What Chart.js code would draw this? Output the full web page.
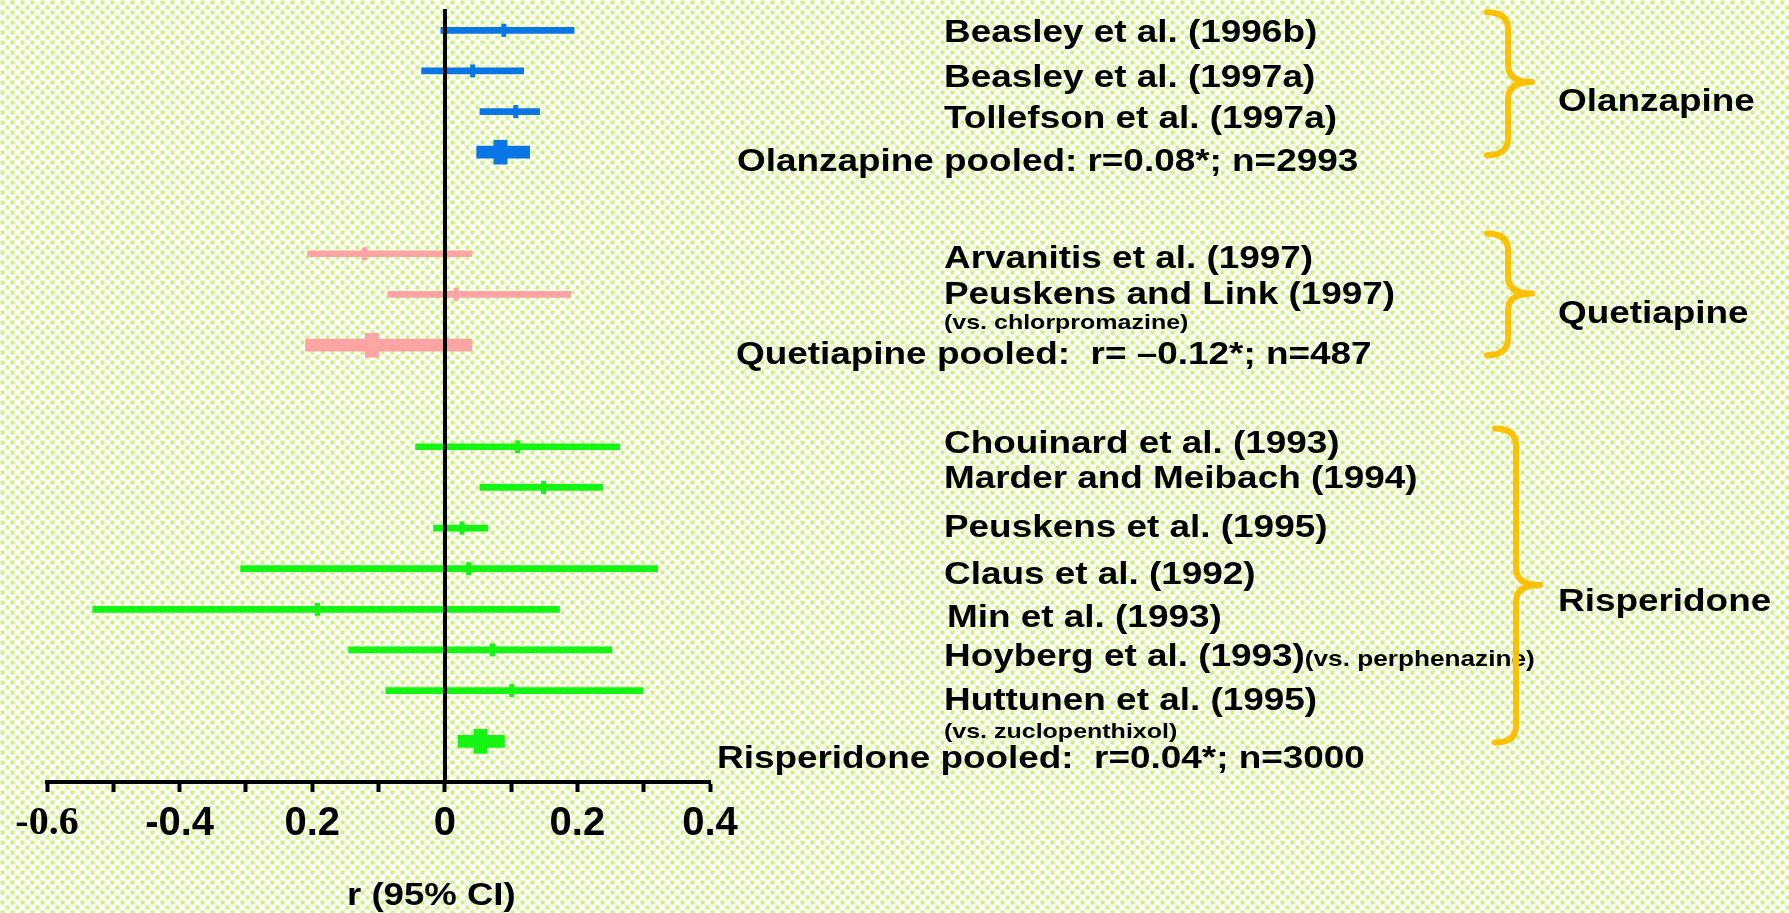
<!DOCTYPE html>
<html>
<head>
<meta charset="utf-8">
<title>r (95% CI)</title>
<script src="https://cdn.jsdelivr.net/npm/chart.js@4.4.0/dist/chart.umd.min.js"></script>
<style>
  html, body { margin: 0; padding: 0; background: #fff; }
  #wrap { width: 1789px; height: 913px; position: relative; }
</style>
</head>
<body>
<div id="wrap"><canvas id="chart"></canvas></div>
<script>
// ---- data ----
const studyNames = [
  "Beasley et al. (1996b)",
  "Beasley et al. (1997a)",
  "Tollefson et al. (1997a)",
  "Arvanitis et al. (1997)",
  "Peuskens and Link (1997)",
  "Chouinard et al. (1993)",
  "Marder and Meibach (1994)",
  "Peuskens et al. (1995)",
  "Claus et al. (1992)",
  "Min et al. (1993)",
  "Hoyberg et al. (1993)",
  "Huttunen et al. (1995)"
];
const studyNotes = ["", "", "", "", "(vs. chlorpromazine)", "", "", "", "", "", "(vs. perphenazine)", "(vs. zuclopenthixol)"];
const studyDrug = [
  "Olanzapine", "Olanzapine", "Olanzapine",
  "Quetiapine", "Quetiapine",
  "Risperidone", "Risperidone", "Risperidone", "Risperidone", "Risperidone", "Risperidone", "Risperidone"
];
// row order on the plot (top = 0), blank rows between the drug groups
const studyRow = [0, 4, 8, 22, 26, 41, 45, 49, 53, 57, 61, 65];
const studyR = [0.089, 0.042, 0.107, -0.121, 0.017, 0.110, 0.149, 0.026, 0.036, -0.192, 0.072, 0.101];
const studyLow = [-0.006, -0.035, 0.053, -0.207, -0.086, -0.044, 0.053, -0.017, -0.308, -0.531, -0.145, -0.089];
const studyHigh = [0.195, 0.119, 0.143, 0.041, 0.190, 0.264, 0.238, 0.065, 0.321, 0.173, 0.252, 0.299];

const drugs = ["Olanzapine", "Quetiapine", "Risperidone"];
const pooledRow = [12, 31, 70];
const pooledR = [0.084, -0.110, 0.054];
const pooledLow = [0.048, -0.210, 0.020];
const pooledHigh = [0.128, 0.041, 0.090];
const pooledText = [
  "Olanzapine pooled: r=0.08*; n=2993",
  "Quetiapine pooled:  r= \u20130.12*; n=487",
  "Risperidone pooled:  r=0.04*; n=3000"
];

const tickLabels = ["-0.6", "", "-0.4", "", "0.2", "", "0", "", "0.2", "", "0.4"];
const axisTitle = "r (95% CI)";

// ---- layout of the text column (in row units of the y scale) ----
const studyLabelRow = [0.1, 4.5, 8.5, 22.35, 25.9, 40.5, 44.0, 48.8, 53.4, 57.6, 61.5, 65.8];
const noteRow = [null, null, null, null, 28.7, null, null, null, null, null, "inline", 68.9];
const pooledLabelRow = [12.75, 31.8, 71.5];
const pooledLabelX = [737, 736, 717];
const groupLabelRow = [6.9, 27.7, 56.1];
const braceRows = [[-1.77, 5.1, 12.3], [20, 25.9, 32], [39.2, 54.6, 70.1]];
const braceX = [1487, 1487, 1495];

const drugColor = { Olanzapine: "#0a76e6", Quetiapine: "#ffa3a3", Risperidone: "#14f514" };
const studyColors = studyDrug.map((d) => drugColor[d]);
const pooledColors = drugs.map((d) => drugColor[d]);

const SANS = '"Liberation Sans", Arial, Helvetica, sans-serif';
const SERIF = '"Liberation Serif", "Times New Roman", serif';
Chart.defaults.font.family = SANS;

// text is drawn a bit wide, like the original slide
const STRETCH = 1.19;

function capText(ctx, str, x, yMid, size, stretch) {
  ctx.save();
  ctx.font = "bold " + size + "px " + SANS;
  ctx.fillStyle = "#000";
  ctx.textAlign = "left";
  ctx.textBaseline = "alphabetic";
  ctx.translate(x, yMid + size * 0.358);
  ctx.scale(stretch, 1);
  ctx.fillText(str, 0, 0);
  const w = ctx.measureText(str).width * stretch;
  ctx.restore();
  return w;
}

function drawBrace(ctx, x0, yTop, yTip, yBot) {
  const xs = x0 + 21, xt = x0 + 45, r = 17;
  ctx.beginPath();
  ctx.moveTo(x0, yTop);
  ctx.quadraticCurveTo(xs, yTop, xs, yTop + r);
  ctx.lineTo(xs, yTip - r);
  ctx.quadraticCurveTo(xs, yTip, xt, yTip);
  ctx.quadraticCurveTo(xs, yTip, xs, yTip + r);
  ctx.lineTo(xs, yBot - r);
  ctx.quadraticCurveTo(xs, yBot, x0, yBot);
  ctx.stroke();
}

// dotted light green slide background
const patternBg = {
  id: "patternBg",
  beforeDraw(chart) {
    const c = chart.ctx;
    const tile = document.createElement("canvas");
    tile.width = 10;
    tile.height = 10;
    const t = tile.getContext("2d");
    t.fillStyle = "#ffffff";
    t.fillRect(0, 0, 10, 10);
    t.fillStyle = "#e8f7c4";
    t.fillRect(0, 0, 5, 5);
    t.fillRect(5, 5, 5, 5);
    t.fillStyle = "#cdf27c";
    t.fillRect(1, 1, 3, 3);
    t.fillRect(6, 6, 3, 3);
    c.save();
    c.fillStyle = c.createPattern(tile, "repeat");
    c.fillRect(0, 0, chart.width, chart.height);
    c.restore();
  }
};

// study names, pooled results, braces and group names
const forestText = {
  id: "forestText",
  afterDraw(chart) {
    const c = chart.ctx;
    const y = chart.scales.y;

    studyNames.forEach((name, i) => {
      const x = name.startsWith("Min") ? 947 : 944;
      const w = capText(c, name, x, y.getPixelForValue(studyLabelRow[i]), 31, STRETCH);
      if (noteRow[i] === "inline") {
        // same baseline as the study name
        const base = y.getPixelForValue(studyLabelRow[i]) + 31 * 0.358;
        capText(c, studyNotes[i], x + w, base - 22 * 0.358, 22, STRETCH);
      } else if (noteRow[i] !== null) {
        capText(c, studyNotes[i], x, y.getPixelForValue(noteRow[i]), 21, STRETCH);
      }
    });

    pooledText.forEach((txt, i) => {
      capText(c, txt, pooledLabelX[i], y.getPixelForValue(pooledLabelRow[i]), 31, STRETCH);
    });

    drugs.forEach((d, i) => {
      capText(c, d, 1558, y.getPixelForValue(groupLabelRow[i]), 31, STRETCH);
    });

    c.save();
    c.strokeStyle = "#ffc000";
    c.lineWidth = 6;
    c.lineCap = "round";
    c.lineJoin = "round";
    braceRows.forEach((b, i) => {
      drawBrace(c, braceX[i], y.getPixelForValue(b[0]), y.getPixelForValue(b[1]), y.getPixelForValue(b[2]));
    });
    c.restore();

    capText(c, axisTitle, 347, 894, 31, 1.18);
  }
};

const chart = new Chart(document.getElementById("chart"), {
  type: "bar",
  data: {
    datasets: [
      {
        type: "scatter",
        label: "Pooled r",
        order: 0,
        data: pooledRow.map((row, i) => ({ x: pooledR[i], y: row })),
        pointStyle: "line",
        pointRotation: 90,
        pointRadius: 12.3,
        pointHoverRadius: 12.3,
        pointBorderWidth: 14,
        pointHoverBorderWidth: 14,
        pointBorderColor: pooledColors,
        pointBackgroundColor: pooledColors
      },
      {
        type: "scatter",
        label: "Study r",
        order: 1,
        data: studyRow.map((row, i) => ({ x: studyR[i], y: row })),
        pointStyle: "line",
        pointRotation: 90,
        pointRadius: 6.5,
        pointHoverRadius: 6.5,
        pointBorderWidth: 5,
        pointHoverBorderWidth: 5,
        pointBorderColor: studyColors,
        pointBackgroundColor: studyColors
      },
      {
        type: "bar",
        label: "Pooled 95% CI",
        order: 2,
        indexAxis: "y",
        grouped: false,
        data: pooledRow.map((row, i) => ({ x: [pooledLow[i], pooledHigh[i]], y: row })),
        backgroundColor: pooledColors,
        barThickness: 12,
        borderWidth: 0
      },
      {
        type: "bar",
        label: "Study 95% CI",
        order: 3,
        indexAxis: "y",
        grouped: false,
        data: studyRow.map((row, i) => ({ x: [studyLow[i], studyHigh[i]], y: row })),
        backgroundColor: studyColors,
        barThickness: 6,
        borderWidth: 0
      }
    ]
  },
  options: {
    responsive: true,
    maintainAspectRatio: false,
    animation: false,
    events: [],
    indexAxis: "y",
    layout: { autoPadding: false, padding: { left: 47, right: 1079, top: 11, bottom: 0 } },
    plugins: {
      legend: { display: false },
      tooltip: { enabled: false }
    },
    scales: {
      x: {
        type: "linear",
        position: "bottom",
        min: -0.6,
        max: 0.4,
        offset: false,
        afterFit: (scale) => { scale.height = 131; },
        border: { display: true, color: "#000", width: 4 },
        grid: {
          display: true,
          drawOnChartArea: false,
          drawTicks: true,
          tickLength: 10,
          tickWidth: 4,
          tickColor: "#000"
        },
        ticks: {
          stepSize: 0.1,
          autoSkip: false,
          maxRotation: 0,
          padding: 8,
          color: "#000",
          font: (ctx) => ({
            family: ctx.index === 0 ? SERIF : SANS,
            size: 40,
            weight: "bold"
          }),
          callback: (value, index) => tickLabels[index]
        }
      },
      y: {
        type: "linear",
        reverse: true,
        min: -1.9,
        max: 74,
        offset: false,
        position: { x: 0 },
        afterFit: (scale) => { scale.width = 0; },
        border: { display: true, color: "#000", width: 4, z: 1 },
        grid: { display: true, drawOnChartArea: false, drawTicks: false },
        ticks: { display: false }
      }
    }
  },
  plugins: [patternBg, forestText]
});
</script>
</body>
</html>
